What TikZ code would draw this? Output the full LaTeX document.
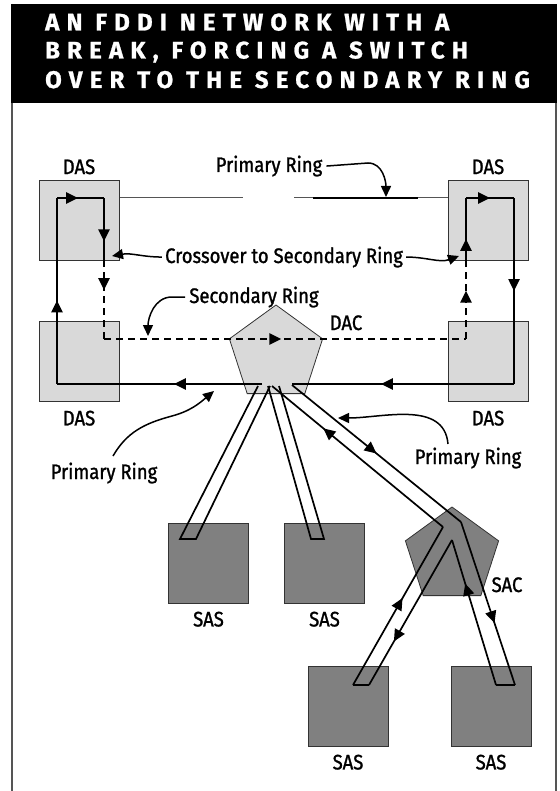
\documentclass[tikz,border=0pt]{standalone}
\usepackage{fontspec}
\setmainfont{Fira Sans}
\newfontfamily\labelfont[FakeStretch=0.88, FakeBold=1.2]{Fira Sans}
\newfontfamily\titlefont[LetterSpace=30, FakeBold=1]{Fira Sans}
\usepackage{tikz}
\usetikzlibrary{shapes.geometric, arrows.meta, positioning, calc, decorations.markings}
\definecolor{boxgray}{HTML}{D9D9D9}
\definecolor{sasgray}{HTML}{808080}
\definecolor{framegray}{HTML}{555555}
\tikzstyle{callout} = [line width=1.5pt,-{Triangle[length=11pt,width=10pt]}]
\tikzstyle{ring} = [line width=2.5pt, line join=miter]

\begin{document}
\begin{tikzpicture}[
    x=1pt, y=-1pt,
    das/.style={rectangle, draw=black!80, fill=boxgray, line width=1pt, minimum size=80pt, inner sep=0pt},
    sas/.style={das, fill=sasgray},
    hub/.style={regular polygon, regular polygon sides=5, draw=black!80, fill=boxgray, line width=0.8pt, minimum size=98pt, inner sep=0pt},
    lbl/.style={font=\labelfont\fontsize{21}{24}\selectfont, inner sep=0pt},
    ttl/.style={font=\titlefont\bfseries\fontsize{24}{28}\selectfont, text=white, inner sep=0pt, anchor=base west},
    strip/.style={line width=1.7pt, line join=miter},
    arrowat/.style={postaction={decorate, decoration={markings, mark=at position #1 with {\arrow{Triangle[length=12pt,width=11pt]}}}}}
]
    \useasboundingbox (0,0) rectangle (559,791);
    % frame and title bar
    \draw[framegray, line width=2pt] (12,4) -- (12,791) (556,4) -- (556,791);
    \fill[black] (11,4) rectangle (557,103);
    \node[ttl] (title1) at (45,30.5) {AN FDDI NETWORK WITH A};
    \node[ttl] (title2) at (45,58.5) {BREAK, FORCING A SWITCH};
    \node[ttl] (title3) at (45,88) {OVER TO THE SECONDARY RING};

    % stations
    \node[das] (dasTL) at (79,221) {};
    \node[das] (dasTR) at (488,221) {};
    \node[das] (dasBL) at (79,361) {};
    \node[das] (dasBR) at (488,361) {};
    \node[lbl, above=6pt of dasTL] {DAS};
    \node[lbl, above=6pt of dasTR] {DAS};
    \node[lbl, below=9pt of dasBL] {DAS};
    \node[lbl, below=9pt of dasBR] {DAS};

    \node[hub] (dac) at (276,354) {};
    \node[hub, fill=sasgray] (sac) at (452,556) {};

    \node[sas] (sas1) at (208.5,563) {};
    \node[sas] (sas2) at (324.5,563) {};
    \node[sas] (sas3) at (348,706) {};
    \node[sas] (sas4) at (491,706) {};
    \node[lbl, below=8pt of sas1] {SAS};
    \node[lbl, below=8pt of sas2] {SAS};
    \node[lbl, below=8pt of sas3] {SAS};
    \node[lbl, below=8pt of sas4] {SAS};

    % ring corners
    \coordinate (L1) at (57,384);
    \coordinate (L2) at (57,198);
    \coordinate (L3) at (104,198);
    \coordinate (L4) at (104,260);
    \coordinate (L5) at (104,339);
    \coordinate (R1) at (514,384);
    \coordinate (R2) at (514,198);
    \coordinate (R3) at (466,198);
    \coordinate (R4) at (466,261);
    \coordinate (R5) at (466,339);
    \coordinate (dacL) at (262,384);
    \coordinate (dacR) at (292,384);

    % broken primary ring between the upper stations
    \draw[framegray, line width=1pt] (dasTL.east |- L2) -- (243,198);
    \draw[framegray, line width=1pt] (294,198) -- (dasTR.west |- R3);
    \draw[line width=2pt] (313,198) -- (418,198);

    % wrapped ring
    \draw[ring, arrowat=0.45] (L1) -- (L2);
    \draw[ring, arrowat=0.45] (L2) -- (L3);
    \draw[ring, arrowat=0.7] (L3) -- (L4);
    \draw[ring, dashed, dash pattern=on 7pt off 5pt, arrowat=0.38] (L4) -- (L5);
    \draw[ring, dashed, dash pattern=on 7pt off 5pt, arrowat=0.49] (L5) -- (R5);
    \draw[ring, dashed, dash pattern=on 7pt off 5pt, arrowat=0.62] (R5) -- (R4);
    \draw[ring, arrowat=0.35] (R4) -- (R3);
    \draw[ring, arrowat=0.5] (R3) -- (R2);
    \draw[ring, arrowat=0.5] (R2) -- (R1);
    \draw[ring, arrowat=0.6] (R1) -- (dacR);
    \draw[ring, arrowat=0.43] (dacL) -- (L1);

    % links to the single attached stations
    \draw[strip] (258,386) -- (180,539) -- (196,539) -- (270,386);
    \draw[strip] (268,386) -- (311,539) -- (324,539) -- (279,386);

    \coordinate (d1) at (272,386);
    \coordinate (d2) at (292,385);
    \coordinate (b1) at (443,527);
    \coordinate (b2) at (461,522);
    \coordinate (apex) at (452,540);
    \coordinate (s3a) at (353,685);
    \coordinate (s3b) at (369,685);
    \coordinate (s4a) at (496,685);
    \coordinate (s4b) at (515,685);
    \draw[strip, arrowat=0.7] (b1) -- (d1);
    \draw[strip, arrowat=0.5] (d2) -- (b2);
    \draw[strip, arrowat=0.55] (s3a) -- (b1);
    \draw[strip, arrowat=0.7] (apex) -- (s3b);
    \draw[strip] (s3a) -- (s3b);
    \draw[strip, arrowat=0.7] (s4a) -- (apex);
    \draw[strip, arrowat=0.62] (b2) -- (s4b);
    \draw[strip] (s4a) -- (s4b);

    % labels with callouts
    \node[lbl, anchor=base] (prTop) at (269,172) {Primary Ring};
    \node[lbl, anchor=base] (xover) at (284,263) {Crossover to Secondary Ring};
    \node[lbl, anchor=base] (secRing) at (254,303) {Secondary Ring};
    \node[lbl, anchor=base] (dacLbl) at (346,330) {DAC};
    \node[lbl, anchor=base] (prLeft) at (104,479) {Primary Ring};
    \node[lbl, anchor=base] (prRight) at (468,464) {Primary Ring};
    \node[lbl, anchor=base] (sacLbl) at (507,592) {SAC};

    \coordinate (tipTop) at (386,197);
    \coordinate (tipXL) at (112,256);
    \coordinate (tipXR) at (459,256);
    \coordinate (tipSec) at (148,336);
    \coordinate (tipLeft) at (214,391);
    \coordinate (tipRight) at (338,418);

    \draw[callout] ([xshift=4pt]prTop.east) -- (368,163) to[out=0,in=90] (tipTop);
    \draw[callout] ([xshift=-3pt]xover.west) to[out=180,in=10] (tipXL);
    \draw[callout] ([xshift=3pt]xover.east) to[out=0,in=200] (tipXR);
    \draw[callout] ([xshift=-4pt]secRing.west) -- (172,297) to[out=180,in=90] (tipSec);
    \draw[callout] (113,456) to[out=60,in=195] (172,416) to[out=15,in=220] (tipLeft);
    \draw[callout] (448,444) to[out=95,in=0] (tipRight);
\end{tikzpicture}
\end{document}
